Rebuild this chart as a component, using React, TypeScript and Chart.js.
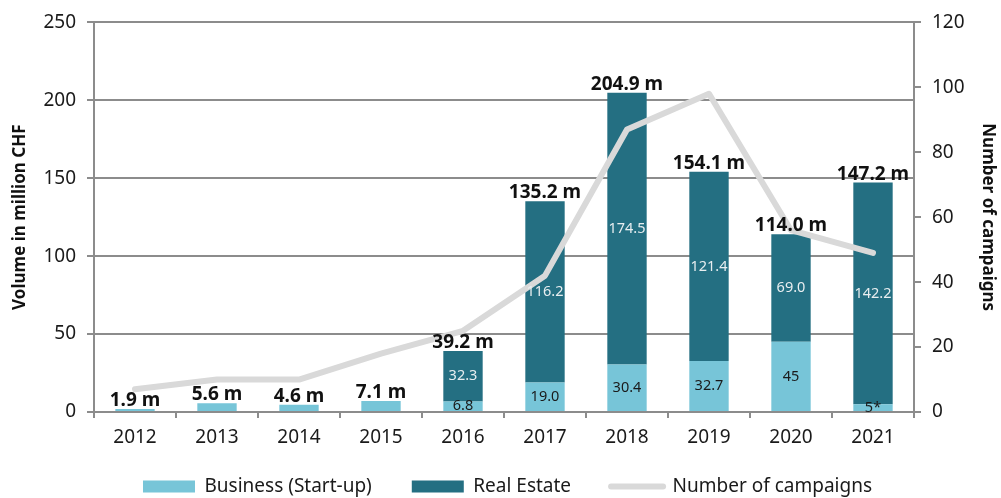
import React, { useEffect, useRef } from "react";
import { Chart, registerables } from "chart.js";

Chart.register(...registerables);

const years = ["2012", "2013", "2014", "2015", "2016", "2017", "2018", "2019", "2020", "2021"];
const businessValues = [1.9, 5.6, 4.6, 7.1, 6.8, 19.0, 30.4, 32.7, 45, 5];
const realEstateValues = [0, 0, 0, 0, 32.3, 116.2, 174.5, 121.4, 69.0, 142.2];
const campaignCounts = [7, 10, 10, 18, 25, 42, 87, 98, 56, 49];
const totalLabels = ["1.9 m", "5.6 m", "4.6 m", "7.1 m", "39.2 m", "135.2 m", "204.9 m", "154.1 m", "114.0 m", "147.2 m"];
const businessLabels = ["", "", "", "", "6.8", "19.0", "30.4", "32.7", "45", "5*"];
const realEstateLabels = ["", "", "", "", "32.3", "116.2", "174.5", "121.4", "69.0", "142.2"];
const leftTicks = [0, 50, 100, 150, 200, 250];
const rightTicks = [0, 20, 40, 60, 80, 100, 120];

const FONT = "'Noto Sans', 'DejaVu Sans', sans-serif";
const LIGHT = "#77c5d8";
const DARK = "#246f82";
const LINE = "#d9d9d9";
const GRID = "#8c8c8c";
const TEXT = "#1a1a1a";

const labelPlugin = {
  id: "barLabels",
  afterLayout(chart: any) {
    // let the x tick labels extend below the (tight) x-axis box without clipping
    const x = chart.scales.x;
    if (x) x.bottom = chart.height;
  },
  afterDatasetsDraw(chart: any) {
    const ctx = chart.ctx;
    const m0 = chart.getDatasetMeta(0);
    const m1 = chart.getDatasetMeta(1);
    ctx.save();
    ctx.textAlign = "center";
    ctx.textBaseline = "middle";
    m0.data.forEach((el: any, i: number) => {
      const t = businessLabels[i];
      if (!t) return;
      ctx.font = `14.5px ${FONT}`;
      ctx.fillStyle = TEXT;
      ctx.fillText(t, el.x, (el.y + el.base) / 2);
    });
    m1.data.forEach((el: any, i: number) => {
      const t = realEstateLabels[i];
      if (!t) return;
      ctx.font = `14.5px ${FONT}`;
      ctx.fillStyle = "#e8eef0";
      ctx.fillText(t, el.x, (el.y + el.base) / 2);
    });
    ctx.textBaseline = "alphabetic";
    ctx.font = `bold 19px ${FONT}`;
    ctx.fillStyle = "#111";
    m0.data.forEach((el: any, i: number) => {
      const e1 = m1.data[i];
      const top = Math.min(el.y, e1 ? e1.y : el.y);
      ctx.fillText(totalLabels[i], el.x, top - 3);
    });
    ctx.restore();
  },
};

export default function App() {
  const ref = useRef<HTMLCanvasElement>(null);
  useEffect(() => {
    document.body.style.margin = "0";
    const chart = new Chart(ref.current!, {
      type: "bar",
      data: {
        labels: years,
        datasets: [
          {
            type: "bar",
            label: "Business (Start-up)",
            data: businessValues,
            backgroundColor: LIGHT,
            borderWidth: 0,
            yAxisID: "y",
            stack: "s",
            order: 1,
            barPercentage: 0.48,
            categoryPercentage: 1,
          },
          {
            type: "bar",
            label: "Real Estate",
            data: realEstateValues,
            backgroundColor: DARK,
            borderWidth: 0,
            yAxisID: "y",
            stack: "s",
            order: 2,
            barPercentage: 0.48,
            categoryPercentage: 1,
          },
          {
            type: "line",
            label: "Number of campaigns",
            data: campaignCounts,
            borderColor: LINE,
            backgroundColor: LINE,
            borderWidth: 6,
            borderCapStyle: "round",
            borderJoinStyle: "round",
            pointRadius: 0,
            tension: 0,
            yAxisID: "y1",
            order: 0,
          } as any,
        ],
      },
      options: {
        responsive: false,
        animation: false,
        layout: { padding: { top: 21, bottom: -8, left: 14, right: 0 } },
        plugins: {
          tooltip: { enabled: false },
          legend: {
            position: "bottom",
            labels: {
              usePointStyle: true,
              pointStyleWidth: 52,
              boxHeight: 12,
              padding: 40,
              color: TEXT,
              font: { family: FONT, size: 19 },
              sort: (a: any, b: any) => a.datasetIndex - b.datasetIndex,
              generateLabels: (chart: any) => {
                const items = Chart.defaults.plugins.legend.labels.generateLabels(chart);
                return items.map((it: any) => {
                  if (it.datasetIndex === 2) {
                    return { ...it, pointStyle: "line", lineWidth: 6, strokeStyle: LINE, lineCap: "round" };
                  }
                  return { ...it, pointStyle: "rect", lineWidth: 0 };
                });
              },
            },
          },
        },
        scales: {
          x: {
            stacked: true,
            grid: { drawOnChartArea: false, drawTicks: true, tickLength: 6, color: GRID, lineWidth: 2, offset: true },
            border: { color: GRID, width: 2 },
            ticks: { color: TEXT, font: { family: FONT, size: 19 }, padding: 8 },
            afterFit: (s: any) => { s.height = 25; },
          },
          y: {
            type: "linear",
            position: "left",
            stacked: true,
            min: 0,
            max: 250,
            afterBuildTicks: (s: any) => { s.ticks = leftTicks.map((v) => ({ value: v })); },
            grid: { color: GRID, lineWidth: 2, tickLength: 7 },
            border: { color: GRID, width: 2 },
            ticks: { color: TEXT, font: { family: FONT, size: 19 }, padding: 11 },
            title: {
              display: true,
              text: "Volume in million CHF",
              color: "#111",
              font: { family: FONT, size: 17, weight: "bold" },
              padding: { top: -4, bottom: 0 },
            },
            afterFit: (s: any) => { s.width = 80; },
          },
          y1: {
            type: "linear",
            position: "right",
            min: 0,
            max: 120,
            afterBuildTicks: (s: any) => { s.ticks = rightTicks.map((v) => ({ value: v })); },
            grid: { drawOnChartArea: false, color: GRID, lineWidth: 2, tickLength: 7 },
            border: { color: GRID, width: 2 },
            ticks: { color: TEXT, font: { family: FONT, size: 19 }, padding: 11 },
            title: {
              display: true,
              text: "Number of campaigns",
              color: "#111",
              font: { family: FONT, size: 17, weight: "bold" },
              padding: { top: 3, bottom: 0 },
            },
            afterFit: (s: any) => { s.width = 87; },
          },
        },
      } as any,
      plugins: [labelPlugin],
    });
    return () => chart.destroy();
  }, []);
  return (
    <div style={{ width: 1001, height: 498 }}>
      <canvas ref={ref} width={1001} height={498} />
    </div>
  );
}
